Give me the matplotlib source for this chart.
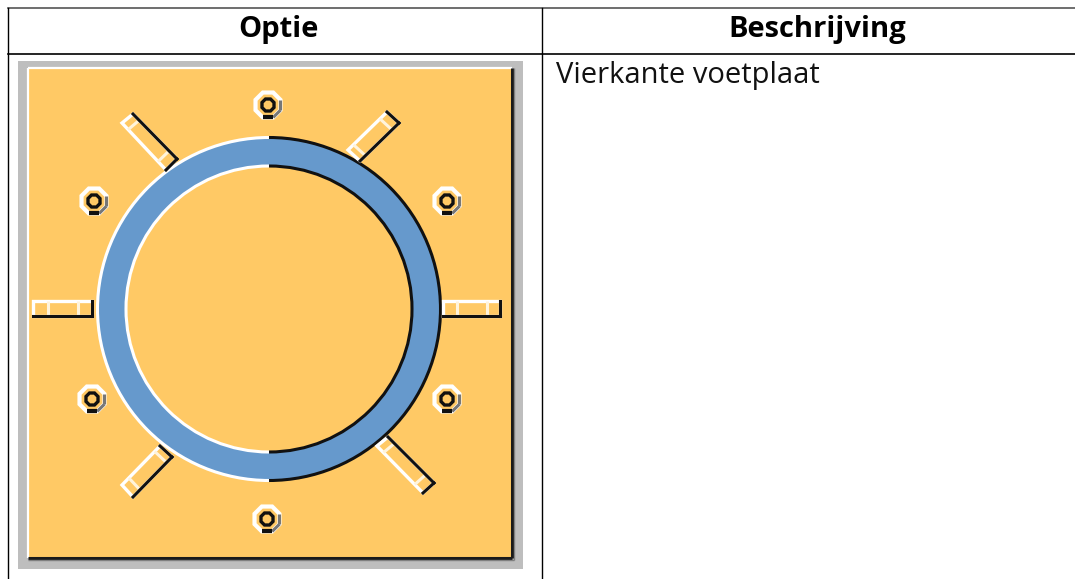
import numpy as np
import matplotlib
matplotlib.use("Agg")
import matplotlib.pyplot as plt
from matplotlib.patches import Rectangle, Polygon, Wedge, Arc

# Table content
headers = ["Optie", "Beschrijving"]
description = "Vierkante voetplaat"
header_x = [278.5, 817]
col_lines_x = [7.5, 541.5]
row_lines_y = [7.5, 53.5]

# Diagram geometry (reference pixels)
plate_outer = (18, 61, 523, 569)
plate_inner = (28, 68, 512, 558)
ring_center = (269, 309)
ring_radii = (143, 171.5)
bolt_x = [268, 447, 447, 267, 92, 94]
bolt_y = [105, 201, 399, 519, 399, 201]
tab_corners = [
    [(122, 123), (133, 114), (177, 159), (166, 170)],
    [(348, 150), (387, 112), (399, 123), (360, 161)],
    [(377, 446), (388, 437), (434, 483), (423, 493)],
    [(160, 446), (172, 457), (133, 497), (122, 485)],
    [(33, 301), (92, 301), (92, 316), (33, 316)],
    [(443, 301), (500, 301), (500, 316), (443, 316)],
]
# which edges (index of start corner) of each tab are dark
tab_dark = [[1, 2], [1, 2], [1, 2], [0, 1], [1, 2], [1, 2]]
tab_bars = [(0.14, 0.82), (0.14, 0.82), (0.14, 0.82), (0.14, 0.82), (0.25, 0.76), (0.25, 0.77)]

YELLOW = "#FFC965"
BLUE = "#6699CC"
GRAY = "#BEBEBE"
DARK = "#111111"

fig = plt.figure(figsize=(10.75, 5.79), dpi=100)
ax = fig.add_axes([0, 0, 1, 1])
ax.set_xlim(0, 1075)
ax.set_ylim(579, 0)
ax.axis("off")

# table rules
ax.plot([col_lines_x[0], 1075], [row_lines_y[0]] * 2, color="#555555", lw=1.2)
ax.plot([col_lines_x[0], 1075], [row_lines_y[1]] * 2, color="black", lw=1.2)
for x in col_lines_x:
    ax.plot([x, x], [row_lines_y[0], 579], color="black", lw=1.0)

for label, x in zip(headers, header_x):
    ax.text(x, 37, label, ha="center", va="baseline", fontsize=21,
            fontweight="bold", family="Open Sans", color="black")
ax.text(556, 83, description, ha="left", va="baseline", fontsize=21,
        family="Open Sans", color="#111111")

# plate
x0, y0, x1, y1 = plate_outer
ax.add_patch(Rectangle((x0, y0), x1 - x0, y1 - y0, fc=GRAY, ec="none"))
x0, y0, x1, y1 = plate_inner
ax.add_patch(Rectangle((x0, y0), x1 - x0, y1 - y0, fc=YELLOW, ec="none"))
ax.plot([x0, x1], [y0, y0], color="white", lw=1.6, solid_capstyle="butt")
ax.plot([x0, x0], [y0, y1], color="white", lw=1.6, solid_capstyle="butt")
ax.plot([x1, x1], [y0, y1], color="#1a1a1a", lw=2.2, solid_capstyle="butt")
ax.plot([x0, x1], [y1, y1], color="#1a1a1a", lw=2.2, solid_capstyle="butt")
ax.plot([x1 + 1.5, x1 + 1.5], [y0, y1 + 2], color="#808080", lw=1, solid_capstyle="butt")
ax.plot([x0, x1 + 2], [y1 + 1.5, y1 + 1.5], color="#808080", lw=1, solid_capstyle="butt")

# ring
cx, cy = ring_center
r_in, r_out = ring_radii
ax.add_patch(Wedge((cx, cy), r_out, 0, 360, width=r_out - r_in, fc=BLUE, ec="none"))
for r in ring_radii:
    ax.add_patch(Arc((cx, cy), 2 * r, 2 * r, theta1=90, theta2=270, color="white", lw=2.2))
    ax.add_patch(Arc((cx, cy), 2 * r, 2 * r, theta1=270, theta2=90, color=DARK, lw=2.2))

# tabs
for corners, dark, bars in zip(tab_corners, tab_dark, tab_bars):
    pts = np.array(corners, dtype=float)
    ax.add_patch(Polygon(pts, closed=True, fc=YELLOW, ec="white", lw=2.4, joinstyle="miter"))
    a, b, c, d = pts
    if np.linalg.norm(b - a) > np.linalg.norm(c - b):
        p, q, r_, s = a, b, d, c
    else:
        p, q, r_, s = b, c, a, d
    for t in bars:
        u = p + (q - p) * t
        v = r_ + (s - r_) * t
        ax.plot([u[0], v[0]], [u[1], v[1]], color="#FFF4DC", lw=2.2, solid_capstyle="butt")
    for k in dark:
        e0, e1 = pts[k], pts[(k + 1) % 4]
        ax.plot([e0[0], e1[0]], [e0[1], e1[1]], color=DARK, lw=2.2, solid_capstyle="projecting")

# bolts
ang = np.radians(np.arange(22.5, 360, 45))
for bx, by in zip(bolt_x, bolt_y):
    outer = np.c_[bx + 13.5 * np.cos(ang), by + 13.5 * np.sin(ang)]
    ax.add_patch(Polygon(outer, closed=True, fc=YELLOW, ec="white", lw=3))
    ax.plot(outer[[0, 1], 0], outer[[0, 1], 1], color="#777777", lw=2.2, solid_capstyle="butt")
    ax.plot(outer[[7, 0], 0], outer[[7, 0], 1], color="#777777", lw=2.2, solid_capstyle="butt")
    ax.plot(outer[[1, 2], 0], outer[[1, 2], 1], color=DARK, lw=3, solid_capstyle="butt")
    inner = np.c_[bx + 6.5 * np.cos(ang), by + 6.5 * np.sin(ang)]
    ax.add_patch(Polygon(inner, closed=True, fc=YELLOW, ec=DARK, lw=2.4))

fig.savefig("out.png", dpi=100)
